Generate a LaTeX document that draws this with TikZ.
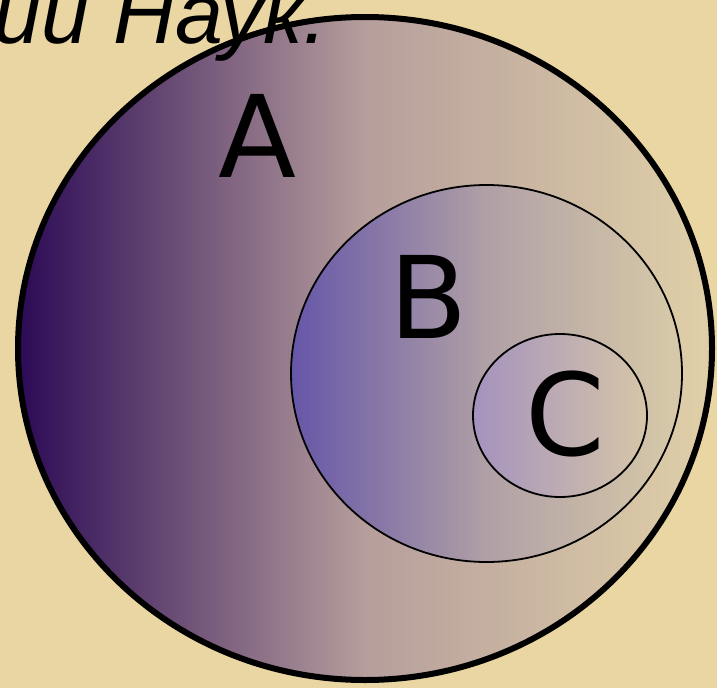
\documentclass[tikz,border=0pt]{standalone}
\usepackage{fontspec}
\setmainfont{DejaVu Sans}
\newfontfamily\titlefont{Liberation Sans}
\usepackage{tikz}
\usetikzlibrary{shapes.geometric, positioning}
\definecolor{papyrus}{RGB}{233, 214, 162}
\definecolor{setAleft}{RGB}{44, 10, 86}
\definecolor{setAmid}{RGB}{182, 158, 156}
\definecolor{setAright}{RGB}{224, 208, 168}
\definecolor{setBleft}{RGB}{102, 86, 168}
\definecolor{setBmid}{RGB}{176, 160, 166}
\definecolor{setBright}{RGB}{216, 202, 168}
\definecolor{setCleft}{RGB}{164, 146, 190}
\definecolor{setCright}{RGB}{214, 198, 168}

\begin{document}
\begin{tikzpicture}[
    x=1pt, y=-1pt,
    set/.style={ellipse, draw, inner sep=0pt, outer sep=0pt},
    letter/.style={font={\fontsize{114}{114}\selectfont}, inner sep=0pt, text=black},
    heading/.style={font={\titlefont\itshape\fontsize{86}{86}\selectfont}, inner sep=0pt, text=black}
]

% tlo
\useasboundingbox (0,0) rectangle (717,688);
\fill[papyrus] (0,0) rectangle (717,688);

% zbiory
\node [set, line width=6pt, minimum width=694pt, minimum height=663pt,
       left color=setAleft, right color=setAright, middle color=setAmid] (setA) at (365,348.5) {};
\node [set, line width=1.8pt, minimum width=391pt, minimum height=377pt,
       left color=setBleft, right color=setBright, middle color=setBmid] (setB) at (486.5,373.5) {};
\node [set, line width=1.8pt, minimum width=174pt, minimum height=163pt,
       left color=setCleft, right color=setCright] (setC) at (560,415.5) {};

% etykiety
\node [letter] (labelA) at (257,136) {A};
\node [letter] (labelB) at (429,297) {B};
\node [letter] (labelC) at (565,414) {C};

\node [heading, anchor=base east] (title) at (328,43) {ии Наук.};

\end{tikzpicture}
\end{document}
